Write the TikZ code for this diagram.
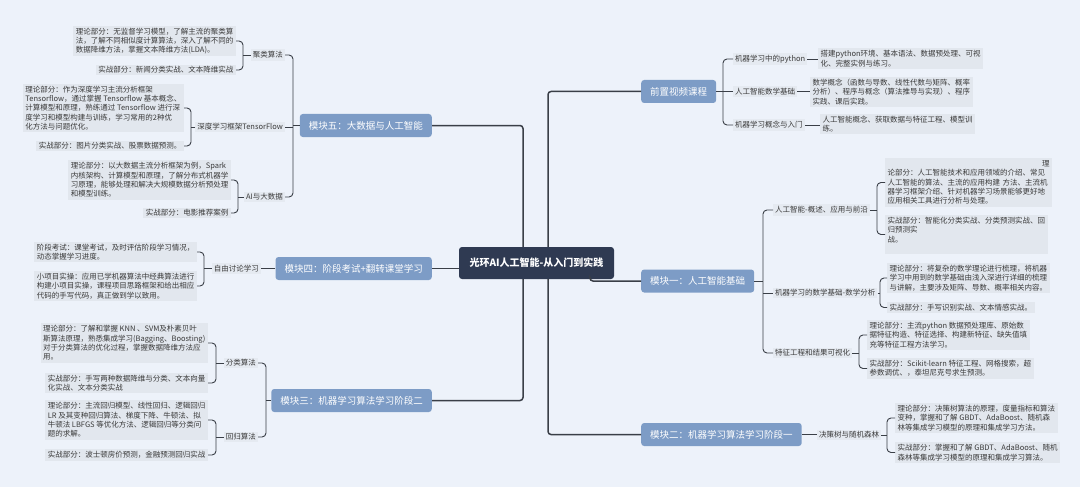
\documentclass[tikz,border=0pt]{standalone}
\usepackage{fontspec}
\setmainfont{Noto Sans CJK SC}
\usetikzlibrary{calc}
\definecolor{bgc}{HTML}{EDF2FA}
\definecolor{boxc}{HTML}{E2E7EE}
\definecolor{lblc}{HTML}{E5EAF1}
\definecolor{modc}{HTML}{7D9CC6}
\definecolor{ctrc}{HTML}{2F3A52}
\definecolor{linec}{HTML}{3A3F47}
\definecolor{txtc}{HTML}{3A3A3A}
\begin{document}
\begin{tikzpicture}[x=1pt,y=-1pt,
  tbox/.style={fill=boxc, text=txtc, inner xsep=2.5pt, inner ysep=2pt, align=left, font=\fontsize{7.5}{9.4}\selectfont},
  lbl/.style={fill=lblc, text=txtc, inner sep=2pt, font=\fontsize{7.5}{9}\selectfont},
  modn/.style={fill=modc, text=white, rounded corners=3pt, minimum height=23pt, inner xsep=9pt, font=\fontsize{9.5}{11}\selectfont},
  ctrn/.style={fill=ctrc, text=white, rounded corners=3pt, minimum width=155pt, minimum height=32pt, font=\fontsize{10}{12}\selectfont\bfseries},
  conn/.style={draw=linec, line width=0.9pt},
  trunk/.style={draw=linec, line width=1.5pt, rounded corners=3pt},
  brk/.style={conn, rounded corners=4pt}]
\fill[bgc] (0,0) rectangle (1080,487);
\useasboundingbox (0,0) rectangle (1080,487);

% centre and modules
\node[ctrn] (ctr) at (536.5,263) {光环AI人工智能-从入门到实践};
\node[modn, anchor=west] (pre) at (641,91.5) {前置视频课程};
\node[modn, anchor=west] (m1) at (641,281) {模块一：人工智能基础};
\node[modn, anchor=west] (m2) at (641,434.5) {模块二：机器学习算法学习阶段一};
\node[modn, anchor=east] (m5) at (432,125.5) {模块五：大数据与人工智能};
\node[modn, anchor=east] (m4) at (432,268.5) {模块四：阶段考试+翻转课堂学习};
\node[modn, anchor=east] (m3) at (432,400.5) {模块三：机器学习算法学习阶段二};

\draw[trunk] (m5.east) -| ([xshift=-13.5pt]ctr.north);
\draw[trunk] (m3.east) -| ([xshift=-13.5pt]ctr.south);
\draw[trunk] (m4.east) -- (m4.east -| ctr.west);
\draw[trunk] (pre.west) -| ([xshift=11.5pt]ctr.north);
\draw[trunk] (m2.west) -| ([xshift=11.5pt]ctr.south);
\draw[trunk] (m1.west) -| ([xshift=53.5pt]ctr.south);

% ---------- 前置视频课程
\node[lbl, anchor=west] (p1) at (733,59) {机器学习中的python};
\node[lbl, anchor=west] (p2) at (733,91.5) {人工智能数学基础};
\node[lbl, anchor=west] (p3) at (733,125) {机器学习概念与入门};
\node[tbox, anchor=west] (p1t) at (818,58.5) {搭建python环境、基本语法、数据预处理、可视\\化、完整实例与练习。};
\node[tbox, anchor=west] (p2t) at (810,92) {数学概念（函数与导数、线性代数与矩阵、概率\\分析）、程序与概念（算法推导与实现）、程序\\实践、课后实践。};
\node[tbox, anchor=west] (p3t) at (820,124) {人工智能概念、获取数据与特征工程、模型训\\练。};
\coordinate (jpre) at ($(p1.west |- pre.east)+(-10,0)$);
\draw[conn] (pre.east) -- (jpre);
\draw[brk] (p1.west) -| (jpre) |- (p3.west);
\draw[conn] (jpre |- p2.west) -- (p2.west);
\draw[conn] (p1.east) -- (p1.east -| p1t.west);
\draw[conn] (p2.east) -- (p2.east -| p2t.west);
\draw[conn] (p3.east) -- (p3.east -| p3t.west);

% ---------- 模块一
\node[lbl, anchor=west] (a1) at (773,210) {人工智能-概述、应用与前沿};
\node[lbl, anchor=west] (a2) at (773,293) {机器学习的数学基础-数学分析};
\node[lbl, anchor=west] (a3) at (773,353) {特征工程和结果可视化};
\coordinate (jm1) at ($(a1.west |- m1.east)+(-10,0)$);
\draw[conn] (m1.east) -- (jm1);
\draw[brk] (a1.west) -| (jm1) |- (a3.west);
\draw[conn] (jm1 |- a2.west) -- (a2.west);

\node[tbox, anchor=west, text width=162pt] (a1t1) at (885,182.5) {\hfill 理\\论部分：人工智能技术和应用领域的介绍、常见\\人工智能的算法、主流的应用构建 方法、主流机\\器学习框架介绍、针对机器学习场景能够更好地\\应用相关工具进行分析与处理。};
\node[tbox, anchor=west] (a1t2) at (885,234.5) {实战部分：智能化分类实战、分类预测实战、回\\归预测实\\战。\\\mbox{}};
\coordinate (ja1) at ($(a1t1.west |- a1.east)+(-8,0)$);
\draw[conn] (a1.east) -- (ja1);
\draw[brk] (a1t1.west) -| (ja1) |- (a1t2.west);

\node[tbox, anchor=west] (a2t1) at (887,278) {理论部分：将复杂的数学理论进行梳理，将机器\\学习中用到的数学基础由浅入深进行详细的梳理\\与讲解，主要涉及矩阵、导数、概率相关内容。};
\node[tbox, anchor=west] (a2t2) at (887,307.5) {实战部分：手写识别实战、文本情感实战。};
\coordinate (ja2) at ($(a2t1.west |- a2.east)+(-7,0)$);
\draw[conn] (a2.east) -- (ja2);
\draw[brk] (a2t1.west) -| (ja2) |- (a2t2.west);

\node[tbox, anchor=west] (a3t1) at (867,335) {理论部分：主流python 数据预处理库、原始数\\据特征构造、特征选择、构建新特征、缺失值填\\充等特征工程方法学习。};
\node[tbox, anchor=west] (a3t2) at (867,368.5) {实战部分：Scikit-learn 特征工程、网格搜索，超\\参数调优、，泰坦尼克号求生预测。};
\coordinate (ja3) at ($(a3t1.west |- a3.east)+(-8,0)$);
\draw[conn] (a3.east) -- (ja3);
\draw[brk] (a3t1.west) -| (ja3) |- (a3t2.west);

% ---------- 模块二
\node[lbl, anchor=west] (b1) at (817,435) {决策树与随机森林};
\draw[conn] (m2.east) -- (m2.east -| b1.west);
\node[tbox, anchor=west] (b1t1) at (895,418) {理论部分：决策树算法的原理，度量指标和算法\\变种，掌握和了解 GBDT、AdaBoost、随机森\\林等集成学习模型的原理和集成学习方法。};
\node[tbox, anchor=west] (b1t2) at (895,452.5) {实战部分：掌握和了解 GBDT、AdaBoost、随机\\森林等集成学习模型的原理和集成学习算法。};
\coordinate (jb1) at ($(b1t1.west |- b1.east)+(-8,0)$);
\draw[conn] (b1.east) -- (jb1);
\draw[brk] (b1t1.west) -| (jb1) |- (b1t2.west);

% ---------- 模块五
\node[lbl, anchor=east] (c1) at (285,55) {聚类算法};
\node[lbl, anchor=east] (c2) at (285,127) {深度学习框架TensorFlow};
\node[lbl, anchor=east] (c3) at (285,197) {AI与大数据};
\coordinate (jm5) at ($(c1.east |- m5.west)+(8,0)$);
\draw[conn] (m5.west) -- (jm5);
\draw[brk] (c1.east) -| (jm5) |- (c3.east);
\draw[conn] (jm5 |- c2.east) -- (c2.east);

\node[tbox, anchor=east] (c1t1) at (236,41) {理论部分：无监督学习模型，了解主流的聚类算\\法，了解不同相似度计算算法，深入了解不同的\\数据降维方法，掌握文本降维方法(LDA)。};
\node[tbox, anchor=east] (c1t2) at (236,70) {实战部分：新闻分类实战、文本降维实战};
\coordinate (jc1) at ($(c1t1.east |- c1.west)+(7,0)$);
\draw[conn] (c1.west) -- (jc1);
\draw[brk] (c1t1.east) -| (jc1) |- (c1t2.east);

\node[tbox, anchor=east] (c2t1) at (184,108) {理论部分：作为深度学习主流分析框架\\Tensorflow，通过掌握 Tensorflow 基本概念、\\计算模型和原理，熟练通过 Tensorflow 进行深\\度学习和模型构建与训练，学习常用的2种优\\化方法与问题优化。};
\node[tbox, anchor=east] (c2t2) at (184,146) {实战部分：图片分类实战、股票数据预测。};
\coordinate (jc2) at ($(c2t1.east |- c2.west)+(7,0)$);
\draw[conn] (c2.west) -- (jc2);
\draw[brk] (c2t1.east) -| (jc2) |- (c2t2.east);

\node[tbox, anchor=east] (c3t1) at (231,180) {理论部分：以大数据主流分析框架为例，Spark\\内核架构、计算模型和原理，了解分布式机器学\\习原理，能够处理和解决大规模数据分析预处理\\和模型训练。};
\node[tbox, anchor=east] (c3t2) at (231,213) {实战部分：电影推荐案例};
\coordinate (jc3) at ($(c3t1.east |- c3.west)+(7,0)$);
\draw[conn] (c3.west) -- (jc3);
\draw[brk] (c3t1.east) -| (jc3) |- (c3t2.east);

% ---------- 模块四
\node[lbl, anchor=east] (d1) at (261,268.5) {自由讨论学习};
\draw[conn] (m4.west) -- (m4.west -| d1.east);
\node[tbox, anchor=east] (d1t1) at (197,252) {阶段考试：课堂考试，及时评估阶段学习情况，\\动态掌握学习进度。};
\node[tbox, anchor=east] (d1t2) at (197,286) {小项目实操：应用已学机器算法中经典算法进行\\构建小项目实操，课程项目思路框架和给出相应\\代码的手写代码，真正做到学以致用。};
\coordinate (jd1) at ($(d1t1.east |- d1.west)+(7,0)$);
\draw[conn] (d1.west) -- (jd1);
\draw[brk] (d1t1.east) -| (jd1) |- (d1t2.east);

% ---------- 模块三
\node[lbl, anchor=east] (e1) at (258,363) {分类算法};
\node[lbl, anchor=east] (e2) at (258,437) {回归算法};
\coordinate (jm3) at ($(e1.east |- m3.west)+(8,0)$);
\draw[conn] (m3.west) -- (jm3);
\draw[brk] (e1.east) -| (jm3) |- (e2.east);

\node[tbox, anchor=east] (e1t1) at (208,343) {理论部分：了解和掌握 KNN 、SVM及朴素贝叶\\斯算法原理，熟悉集成学习(Bagging、Boosting)\\对于分类算法的优化过程，掌握数据降维方法应\\用。};
\node[tbox, anchor=east] (e1t2) at (208,383) {实战部分：手写两种数据降维与分类、文本向量\\化实战、文本分类实战};
\coordinate (je1) at ($(e1t1.east |- e1.west)+(8,0)$);
\draw[conn] (e1.west) -- (je1);
\draw[brk] (e1t1.east) -| (je1) |- (e1t2.east);

\node[tbox, anchor=east] (e2t1) at (208,420) {理论部分：主流回归模型、线性回归、逻辑回归\\LR 及其变种回归算法、梯度下降、牛顿法、拟\\牛顿法 LBFGS 等优化方法、逻辑回归等分类问\\题的求解。};
\node[tbox, anchor=east] (e2t2) at (208,455) {实战部分：波士顿房价预测，金融预测回归实战};
\coordinate (je2) at ($(e2t1.east |- e2.west)+(8,0)$);
\draw[conn] (e2.west) -- (je2);
\draw[brk] (e2t1.east) -| (je2) |- (e2t2.east);
\end{tikzpicture}
\end{document}
